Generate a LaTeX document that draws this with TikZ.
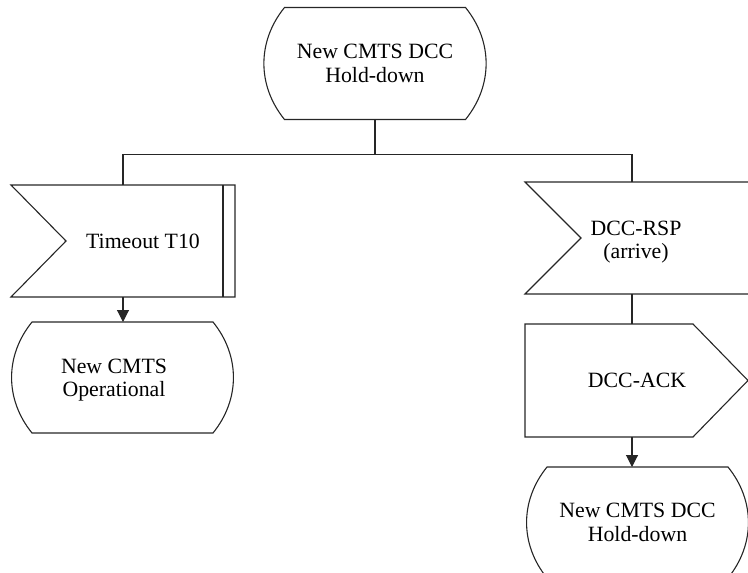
\documentclass[tikz,border=0pt]{standalone}
\usepackage{fontspec}
\setmainfont{Liberation Serif}
\usetikzlibrary{arrows.meta}
\newcommand\dgfont{\fontsize{21.8}{23.5}\selectfont}
\tikzset{
  every node/.style={font=\dgfont, align=center, inner sep=0pt, outer sep=0pt},
  shapebox/.style={minimum width=#1},
  statebox/.style={minimum width=181pt, minimum height=112pt},
  inbox/.style={minimum height=112pt},
  link/.style={line width=1.1pt, draw=black!85},
  arrowlink/.style={link, -{Triangle[length=12pt,width=12pt]}},
  outline/.style={line width=1.1pt, draw=black!85},
}
\newcommand\statepath[1]{\draw[outline] (#1.north west) -- (#1.north east) to[bend left=39] (#1.south east) -- (#1.south west) to[bend left=39] cycle;}
\begin{document}
\begin{tikzpicture}[x=1pt,y=-1pt]
\useasboundingbox (0,0) rectangle (748,573);
\clip (0,0) rectangle (748,573);

% top state
\node[statebox] (s0) at (375,63.5) {New CMTS DCC\\Hold-down};
\statepath{s0}

% left input: Timeout T10
\node[inbox, shapebox=224pt] (t10) at (123,241) {};
\node (t10txt) at (143,241) {Timeout T10};
\draw[outline] (t10.north west) -- (t10.north east) -- (t10.south east) -- (t10.south west) -- ([xshift=55pt]t10.west) -- cycle;
\draw[outline] ([xshift=-12pt]t10.north east) -- ([xshift=-12pt]t10.south east);

% left next state
\node[statebox, minimum height=111pt] (op) at (122.5,377.5) {};
\node (optxt) at (114,380) {New CMTS\\Operational};
\statepath{op}

% right input: DCC-RSP
\node[inbox, shapebox=214pt] (rsp) at (632,238) {};
\node (rsptxt) at (636,242) {DCC-RSP\\(arrive)};
\draw[outline] ([xshift=30pt]rsp.north east) -- (rsp.north west) -- ([xshift=56pt]rsp.west) -- (rsp.south west) -- ([xshift=30pt]rsp.south east);

% output: DCC-ACK
\node[shapebox=214pt, minimum height=113pt] (ack) at (632,380.5) {};
\node (acktxt) at (637,380.5) {DCC-ACK};
\draw[outline] (ack.north west) -- ([xshift=168pt]ack.north west) -- ([xshift=223pt]ack.west) -- ([xshift=168pt]ack.south west) -- (ack.south west) -- cycle;

% bottom state
\node[statebox, minimum height=111pt] (s2) at (637.5,522.5) {New CMTS DCC\\Hold-down};
\statepath{s2}

% connectors
\coordinate (br) at ([yshift=-35pt]s0.south);
\draw[link] (s0.south) -- (br);
\draw[link] (t10.north) |- (br) -| (rsp.north);
\draw[arrowlink] (t10.south) -- (t10.south |- op.north);
\draw[link] (rsp.south) -- (rsp.south |- ack.north);
\draw[arrowlink] (ack.south) -- (ack.south |- s2.north);
\end{tikzpicture}
\end{document}
